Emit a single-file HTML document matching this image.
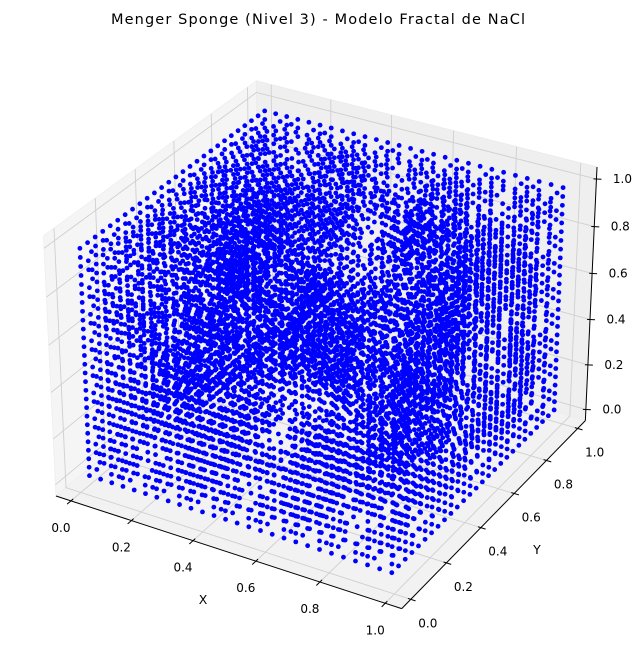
<!DOCTYPE html>
<html><head><meta charset="utf-8"><style>
html,body{margin:0;padding:0;background:#fff;}
svg{display:block;font-family:"DejaVu Sans","Liberation Sans",sans-serif;}
</style></head><body>
<svg id="chart" width="644" height="658" viewBox="0 0 644 658" xmlns="http://www.w3.org/2000/svg">
<text x="318" y="24" font-size="14.5" text-anchor="middle" textLength="414" fill="#000">Menger Sponge (Nivel 3) - Modelo Fractal de NaCl</text>
<g id="panes"></g>
<g id="grid"></g>
<g id="axes"></g>
<g id="pts"></g>
<text x="203" y="604" font-size="12.5" text-anchor="middle">X</text>
<text x="537" y="554" font-size="12.5" text-anchor="middle">Y</text>
</svg>
<script>
// ---- data ----
const sponeLevel = 3;
const gridCells = 27;
const xTicks = [0, 0.2, 0.4, 0.6, 0.8, 1.0];
const yTicks = [0, 0.2, 0.4, 0.6, 0.8, 1.0];
const zTicks = [0, 0.2, 0.4, 0.6, 0.8, 1.0];
const tickLabels = ["0.0","0.2","0.4","0.6","0.8","1.0"];
const lim = [-0.05, 1.05];

function keep(i,j,k){
  for(let l=0;l<sponeLevel;l++){
    const a=i%3,b=j%3,c=k%3;
    if((a===1)+(b===1)+(c===1)>=2) return false;
    i=Math.floor(i/3);j=Math.floor(j/3);k=Math.floor(k/3);
  }
  return true;
}
const ptsX=[],ptsY=[],ptsZ=[];
for(let i=0;i<gridCells;i++)for(let j=0;j<gridCells;j++)for(let k=0;k<gridCells;k++){
  if(keep(i,j,k)){ptsX.push((i+0.5)/gridCells);ptsY.push((j+0.5)/gridCells);ptsZ.push((k+0.5)/gridCells);}
}

// ---- projection (matplotlib-like, elev 30, azim -60) ----
const el=30*Math.PI/180, az=-60*Math.PI/180, dist=10;
let box=[4,4,3]; const nb=Math.hypot(...box); box=box.map(v=>v*1.8294640721620434*25/24/nb);
const R=box.map(v=>v/2);
const ps=[Math.cos(el)*Math.cos(az),Math.cos(el)*Math.sin(az),Math.sin(el)];
const eye=R.map((r,i)=>r+dist*ps[i]);
const w=ps;
function cross(a,b){return [a[1]*b[2]-a[2]*b[1],a[2]*b[0]-a[0]*b[2],a[0]*b[1]-a[1]*b[0]];}
let u=cross([0,0,1],w); const nu=Math.hypot(...u); u=u.map(v=>v/nu);
const v=cross(w,u);
function raw(x,y,z){
  const p=[(x-lim[0])/(lim[1]-lim[0])*box[0],(y-lim[0])/(lim[1]-lim[0])*box[1],(z-lim[0])/(lim[1]-lim[0])*box[2]];
  const d=p.map((q,i)=>q-eye[i]);
  const xv=d[0]*u[0]+d[1]*u[1]+d[2]*u[2];
  const yv=d[0]*v[0]+d[1]*v[1]+d[2]*v[2];
  const zv=d[0]*w[0]+d[1]*w[1]+d[2]*w[2];
  return [xv/-zv, yv/-zv, zv];
}
const A=raw(lim[0],lim[0],lim[0]), B=raw(lim[1],lim[1],lim[1]);
const SA=[56,496], SB=[597,167];
const sx=(SB[0]-SA[0])/(B[0]-A[0]), sy=(SB[1]-SA[1])/(B[1]-A[1]);
function P(x,y,z){const r=raw(x,y,z);return [SA[0]+(r[0]-A[0])*sx, SA[1]+(r[1]-A[1])*sy, r[2]];}

const NS="http://www.w3.org/2000/svg";
function mk(tag,attrs,parent){const e=document.createElementNS(NS,tag);for(const k in attrs)e.setAttribute(k,attrs[k]);parent.appendChild(e);return e;}
const L=lim[0],H=lim[1];
function poly(pts){return pts.map(p=>{const q=P(...p);return q[0].toFixed(2)+","+q[1].toFixed(2);}).join(" ");}

// panes
const panes=document.getElementById('panes');
let e;
e=mk('polygon',{points:poly([[L,L,L],[L,H,L],[L,H,H],[L,L,H]]),fill:'#f5f5f5',stroke:'#f0f0f0'},panes);


e=mk('polygon',{points:poly([[L,H,L],[H,H,L],[H,H,H],[L,H,H]]),fill:'#efefef',stroke:'#ececec'},panes);


e=mk('polygon',{points:poly([[L,L,L],[H,L,L],[H,H,L],[L,H,L]]),fill:'#f2f2f2',stroke:'#eeeeee'},panes);



// gridlines
const grid=document.getElementById('grid');
const gs={fill:'none',stroke:'#cfcfcf','stroke-width':0.9};
xTicks.forEach(t=>{e=mk('polyline',Object.assign({points:poly([[t,L,L],[t,H,L],[t,H,H]])},gs),grid);

});
yTicks.forEach(t=>{e=mk('polyline',Object.assign({points:poly([[H,t,L],[L,t,L],[L,t,H]])},gs),grid);

});
zTicks.forEach(t=>{e=mk('polyline',Object.assign({points:poly([[L,L,t],[L,H,t],[H,H,t]])},gs),grid);

});

// axes
const axes=document.getElementById('axes');
function axisLine(a,b,name){e=mk('polyline',{points:poly([a,b]),fill:'none',stroke:'#000','stroke-width':1},axes);

}
axisLine([L,L,L],[H,L,L],'x-axis-line');
axisLine([H,L,L],[H,H,L],'y-axis-line');
axisLine([H,H,L],[H,H,H],'z-axis-line');
function tick(p,dir,lab,off,name,anchor){
  const a=P(...p);
  const nd=Math.hypot(dir[0],dir[1]);const dx=dir[0]/nd,dy=dir[1]/nd;
  e=mk('line',{x1:a[0]-dx*3,y1:a[1]-dy*3,x2:a[0]+dx*5,y2:a[1]+dy*5,stroke:'#000','stroke-width':1},axes);
  
  
  e=mk('text',{x:a[0]+off[0],y:a[1]+off[1]+4,'font-size':12,'text-anchor':anchor||'middle',fill:'#000'},axes);
  e.textContent=lab;
  
  
}
xTicks.forEach((t,i)=>{const q=P(t,L,L),r=P(t,L-0.2,L);tick([t,L,L],[r[0]-q[0],r[1]-q[1]],tickLabels[i],[-10,27],'x');});
yTicks.forEach((t,i)=>{const q=P(H,t,L),r=P(H+0.2,t,L);tick([H,t,L],[r[0]-q[0],r[1]-q[1]],tickLabels[i],[17,24],'y');});
zTicks.forEach((t,i)=>{tick([H,H,t],[1,0.05],tickLabels[i],[26,0],'z');});

// points
const ptsG=document.getElementById('pts');
const proj=ptsX.map((x,i)=>P(x,ptsY[i],ptsZ[i]));
const order=proj.map((p,i)=>i).sort((a,b)=>proj[a][2]-proj[b][2]);
let frag=document.createDocumentFragment();
order.forEach(i=>{
  const c=document.createElementNS(NS,'circle');
  c.setAttribute('cx',proj[i][0].toFixed(2));
  c.setAttribute('cy',proj[i][1].toFixed(2));
  c.setAttribute('r','2.4');
  c.setAttribute('fill','#0000ff');
  
  
  frag.appendChild(c);
});
ptsG.appendChild(frag);
</script>
</body></html>
